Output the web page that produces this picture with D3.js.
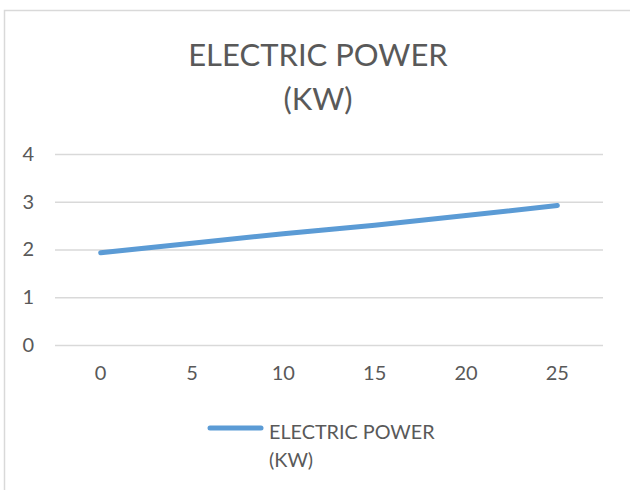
<!DOCTYPE html>
<html>
<head>
<meta charset="utf-8">
<script src="https://cdn.jsdelivr.net/npm/d3@7"></script>
<style>
  body { margin: 0; background: #fff; }
  text { font-family: Lato, "Open Sans", sans-serif; fill: #595959; }
</style>
</head>
<body>
<svg id="chart" width="630" height="490"></svg>
<script>
// data
var categories = ["0", "5", "10", "15", "20", "25"];
var power = [1.93, 2.13, 2.33, 2.51, 2.71, 2.92];
var yTicks = [0, 1, 2, 3, 4];
var titleLines = ["ELECTRIC POWER", "(KW)"];
var legendLines = ["ELECTRIC POWER", "(KW)"];

var svg = d3.select("#chart"),
    width = +svg.attr("width"),
    height = +svg.attr("height");

var blue = "#5B9BD5";

// chart area border (right / bottom run off the picture)
svg.append("rect")
  .attr("x", 4.5).attr("y", 10.5)
  .attr("width", 700).attr("height", 600)
  .attr("fill", "none")
  .attr("stroke", "#d9d9d9")
  .attr("stroke-width", 1.5);

var plot = {left: 55, right: 603, top: 154, bottom: 345};

var x = d3.scaleBand()
  .domain(categories)
  .range([plot.left, plot.right]);

var y = d3.scaleLinear()
  .domain([0, 4])
  .range([plot.bottom, plot.top]);

// title
svg.append("text")
  .attr("text-anchor", "middle")
  .attr("font-size", 31)
  .selectAll("tspan")
  .data(titleLines)
  .enter()
  .append("tspan")
  .attr("x", 318)
  .attr("y", (d, i) => 66 + i * 44)
  .text(d => d);

// gridlines
svg.append("g")
  .selectAll("line")
  .data(yTicks)
  .enter()
  .append("line")
  .attr("x1", plot.left).attr("x2", plot.right)
  .attr("y1", d => y(d) + 0.5).attr("y2", d => y(d) + 0.5)
  .attr("stroke", "#d9d9d9")
  .attr("stroke-width", 1.5);

// y axis labels
var yAxis = d3.axisLeft(y).tickValues(yTicks).tickFormat(d3.format("d"))
  .tickSize(0).tickPadding(0);
var gy = svg.append("g")
  .attr("transform", "translate(34,0)")
  .call(yAxis);
gy.select(".domain").remove();
gy.selectAll("text")
  .attr("font-size", 20)
  .attr("font-family", "Lato, 'Open Sans', sans-serif")
  .attr("fill", "#595959");

// x axis labels
var xAxis = d3.axisBottom(x).tickSize(0).tickPadding(0);
var gx = svg.append("g")
  .attr("transform", "translate(0,366)")
  .call(xAxis);
gx.select(".domain").remove();
gx.selectAll("text")
  .attr("font-size", 20)
  .attr("font-family", "Lato, 'Open Sans', sans-serif")
  .attr("fill", "#595959");

// the line
var line = d3.line()
  .x((d, i) => x(categories[i]) + x.bandwidth() / 2)
  .y(d => y(d));

svg.append("path")
  .datum(power)
  .attr("d", line)
  .attr("fill", "none")
  .attr("stroke", blue)
  .attr("stroke-width", 5)
  .attr("stroke-linecap", "round")
  .attr("stroke-linejoin", "round");

// legend
svg.append("line")
  .attr("x1", 210).attr("x2", 261)
  .attr("y1", 428).attr("y2", 428)
  .attr("stroke", blue)
  .attr("stroke-width", 5)
  .attr("stroke-linecap", "round");

svg.append("text")
  .attr("font-size", 19.8)
  .selectAll("tspan")
  .data(legendLines)
  .enter()
  .append("tspan")
  .attr("x", 269)
  .attr("y", (d, i) => 439 + i * 28)
  .text(d => d);
</script>
</body>
</html>
